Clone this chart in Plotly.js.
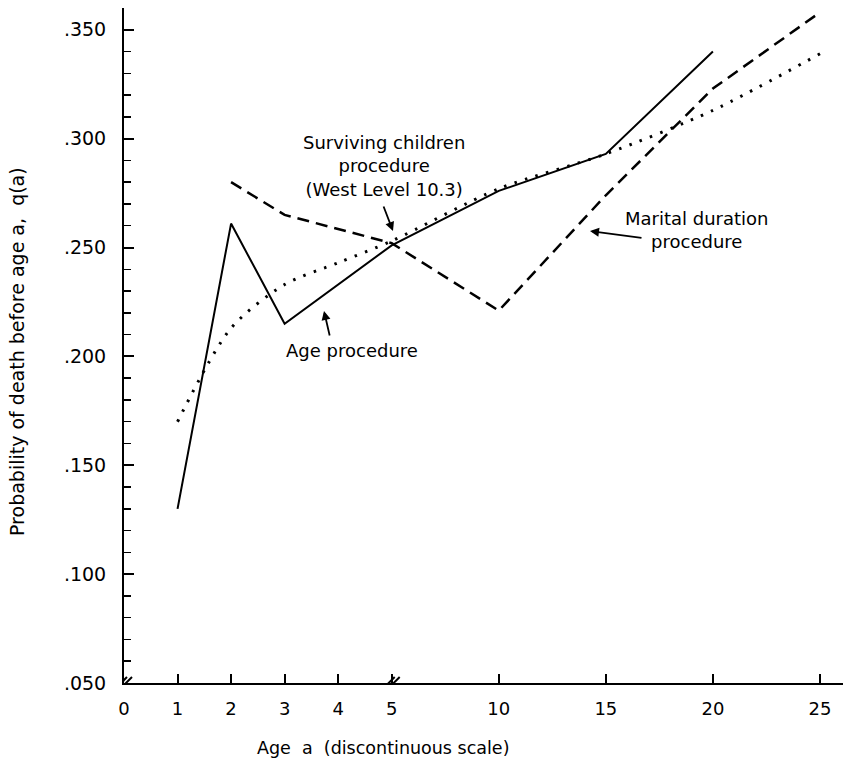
<!DOCTYPE html>
<html><head><meta charset="utf-8">
<script src="https://cdn.plot.ly/plotly-3.0.1.min.js"></script>
<style>html,body{margin:0;padding:0;background:#fff}</style>
</head><body><div id="chart" style="width:847px;height:761px"></div>
<script>
// Data
const ageProcAges = [1, 2, 3, 5, 10, 15, 20];
const ageProcQ    = [0.130, 0.261, 0.215, 0.251, 0.276, 0.293, 0.340];
const maritalAges = [2, 3, 5, 10, 15, 20, 25];
const maritalQ    = [0.280, 0.265, 0.252, 0.221, 0.274, 0.323, 0.358];
const westAges    = [1, 2, 3, 4, 5, 10, 15, 20, 25];
const westQ       = [0.170, 0.213, 0.233, 0.243, 0.253, 0.277, 0.293, 0.313, 0.339];
const xTickAges   = [0, 1, 2, 3, 4, 5, 10, 15, 20, 25];
const xTickText   = ['0', '1', '2', '3', '4', '5', '10', '15', '20', '25'];
const yTickVals   = [0.05, 0.10, 0.15, 0.20, 0.25, 0.30, 0.35];
const yTickText   = ['.050', '.100', '.150', '.200', '.250', '.300', '.350'];

// discontinuous scale: unit steps up to 5, then 5-year steps at double spacing
function pos(a) { return a <= 5 ? a : 5 + (a - 5) / 2.5; }

const FONT = 'DejaVu Sans, sans-serif';
const L = 124, R = 4, T = 8, B = 78, W = 847, H = 761;
const pw = W - L - R, ph = H - T - B;
const xr = [0, 13.43], yr = [0.05, 0.36];
function dx(px) { return xr[0] + (px - L) / pw * (xr[1] - xr[0]); }
function dy(py) { return yr[0] + (H - B - py) / ph * (yr[1] - yr[0]); }

const traces = [
  { x: ageProcAges.map(pos), y: ageProcQ, mode: 'lines', line: { color: '#000', width: 2 }, hoverinfo: 'none' },
  { x: maritalAges.map(pos), y: maritalQ, mode: 'lines', line: { color: '#000', width: 2.5, dash: '12px,7px' }, hoverinfo: 'none' },
  { x: westAges.map(pos), y: westQ, mode: 'lines', line: { color: '#000', width: 3, dash: '2.5px,8.5px', shape: 'spline', smoothing: 0.8 }, hoverinfo: 'none' }
];

function brk(xa, ya) {
  return [-3, 2].map(o => ({
    type: 'line', xref: 'x', yref: 'y', xsizemode: 'pixel', ysizemode: 'pixel',
    xanchor: xa, yanchor: ya, x0: o - 6, x1: o + 6, y0: -6, y1: 6,
    line: { color: '#000', width: 2 }
  }));
}

function arrow(fx, fy, tx, ty) {
  return { x: dx(tx), y: dy(ty), ax: dx(fx), ay: dy(fy), axref: 'x', ayref: 'y',
    text: '', showarrow: true, arrowhead: 2, arrowsize: 1, arrowwidth: 1.8, arrowcolor: '#000', standoff: 0, startstandoff: 0 };
}
function label(px, py, txt) {
  return { x: dx(px), y: dy(py), text: txt, showarrow: false, xanchor: 'center', yanchor: 'middle', font: { size: 18 } };
}

const ann = [
  label(384, 166, 'Surviving children<br>procedure<br>(West Level 10.3)'),
  arrow(383, 205, 393, 231),
  label(697, 230, 'Marital duration<br>procedure'),
  arrow(643, 238, 590, 231),
  label(352, 350, 'Age procedure'),
  arrow(330, 337, 324, 311),
  { xref: 'paper', yref: 'paper', x: (17 - L) / pw, y: (H - B - 352) / ph, xanchor: 'center', yanchor: 'middle',
    text: 'Probability of death before age a,  q(a)', textangle: -90, showarrow: false,
    font: { size: 19 } },
  { xref: 'paper', yref: 'paper', x: (383 - L) / pw, y: (H - B - 748) / ph, xanchor: 'center', yanchor: 'middle',
    text: 'Age  a  (discontinuous scale)', showarrow: false, font: { size: 17.5 } }
];

const layout = {
  width: W, height: H, margin: { l: L, r: R, t: T, b: B },
  paper_bgcolor: '#fff', plot_bgcolor: '#fff', showlegend: false,
  font: { family: FONT, size: 18, color: '#000' },
  xaxis: {
    range: xr, showgrid: false, zeroline: false, showline: true, linecolor: '#000', linewidth: 2,
    ticks: 'inside', ticklen: 9, tickwidth: 2, tickcolor: '#000',
    tickmode: 'array', tickvals: xTickAges.map(pos), ticktext: xTickText,
    tickfont: { size: 18 }, ticklabelstandoff: 8
  },
  yaxis: {
    range: yr, showgrid: false, zeroline: false, showline: true, linecolor: '#000', linewidth: 2,
    ticks: 'inside', ticklen: 10, tickwidth: 2, tickcolor: '#000',
    tickmode: 'array', tickvals: yTickVals, ticktext: yTickText,
    minor: { tickmode: 'linear', tick0: 0.05, dtick: 0.01, ticks: 'inside', ticklen: 7, tickwidth: 1.5, tickcolor: '#000', showgrid: false },
    tickfont: { size: 19 }, ticklabelstandoff: 12
  },
  shapes: [].concat(brk(0, 0.05), brk(5, 0.05)),
  annotations: ann
};

Plotly.newPlot('chart', traces, layout, { displayModeBar: false, staticPlot: true });
</script></body></html>
